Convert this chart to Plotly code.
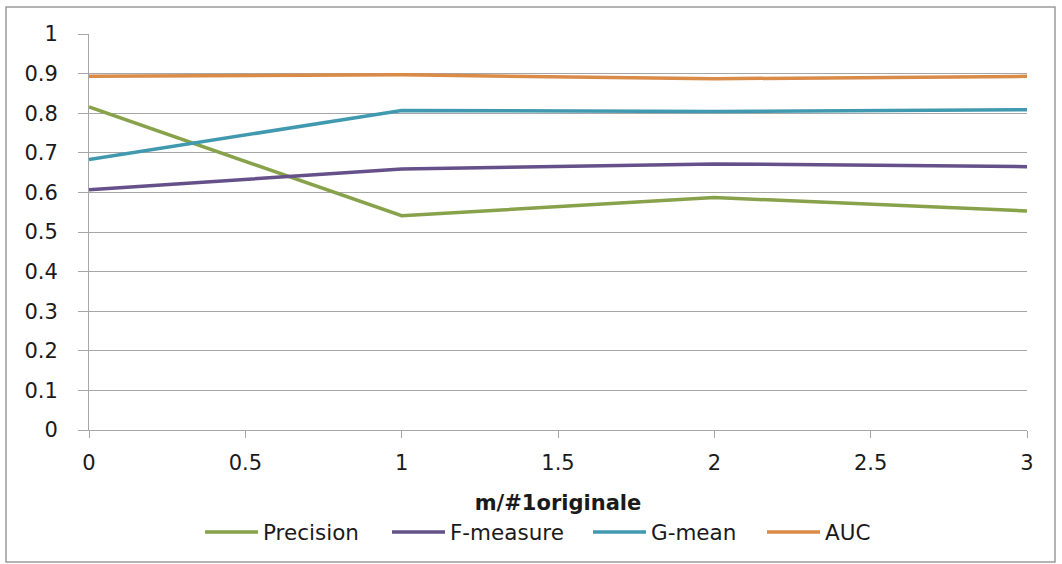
import plotly.graph_objects as go

# Ratio m/#1originale and the four metrics measured at each ratio
ratio = [0, 1, 2, 3]
precision = [0.816, 0.541, 0.587, 0.553]
f_measure = [0.607, 0.659, 0.672, 0.665]
g_mean = [0.683, 0.807, 0.804, 0.809]
auc = [0.893, 0.897, 0.887, 0.893]

# name, values, colour, width reserved for the legend entry text
series = [
    ("Precision", precision, "#87A24A", 119),
    ("F-measure", f_measure, "#655089", 133),
    ("G-mean", g_mean, "#4199B0", 106),
    ("AUC", auc, "#DA8B48", 60),
]

y_ticks = [i / 10 for i in range(11)]
y_tick_text = ["0", "0.1", "0.2", "0.3", "0.4", "0.5", "0.6", "0.7", "0.8", "0.9", "1"]
x_ticks = [0, 0.5, 1, 1.5, 2, 2.5, 3]
x_tick_text = ["0", "0.5", "1", "1.5", "2", "2.5", "3"]

W, H = 1062, 564
L, R, T, B = 89, 35, 34, 134
PW, PH = W - L - R, H - T - B

fig = go.Figure()
for name, vals, color, lw in series:
    fig.add_trace(go.Scatter(
        x=ratio, y=vals, name=name, mode="lines",
        line=dict(color=color, width=3.5),
        legendwidth=lw,
    ))

font_family = "'DejaVu Sans', sans-serif"
grid = "#A6A6A6"
fs = 21

fig.update_layout(
    width=W, height=H,
    margin=dict(l=L, r=R, t=T, b=B, pad=0),
    paper_bgcolor="white", plot_bgcolor="white",
    font=dict(family=font_family, size=fs, color="#1a1a1a"),
    showlegend=True,
    legend=dict(
        orientation="h", x=(200 - L) / PW, xanchor="left",
        y=-(532 - 430) / PH, yanchor="middle",
        font=dict(size=21.5), itemwidth=53, tracegroupgap=0,
        bgcolor="rgba(0,0,0,0)",
    ),
    xaxis=dict(
        range=[0, 3], tickvals=x_ticks, ticktext=x_tick_text,
        showgrid=False, zeroline=False,
        showline=True, linecolor=grid, linewidth=1,
        ticks="outside", ticklen=7, tickcolor=grid,
        ticklabelstandoff=7,
        title=dict(text="<b>m/#1originale</b>", font=dict(size=21), standoff=21),
        fixedrange=True,
    ),
    yaxis=dict(
        range=[0, 1], tickvals=y_ticks, ticktext=y_tick_text,
        showgrid=True, gridcolor=grid, gridwidth=1,
        zeroline=False, showline=True, linecolor=grid, linewidth=1,
        ticks="outside", ticklen=10, tickcolor=grid,
        ticklabelstandoff=16,
        fixedrange=True,
    ),
    shapes=[dict(
        type="rect", xref="paper", yref="paper",
        x0=(6 - L) / PW, x1=(1055 - L) / PW,
        y0=-(562 - 430) / PH, y1=(430 - 7) / PH,
        line=dict(color="#9A9A9A", width=1.5), fillcolor="rgba(0,0,0,0)",
        layer="below",
    )],
)

fig.write_html("out.html")
